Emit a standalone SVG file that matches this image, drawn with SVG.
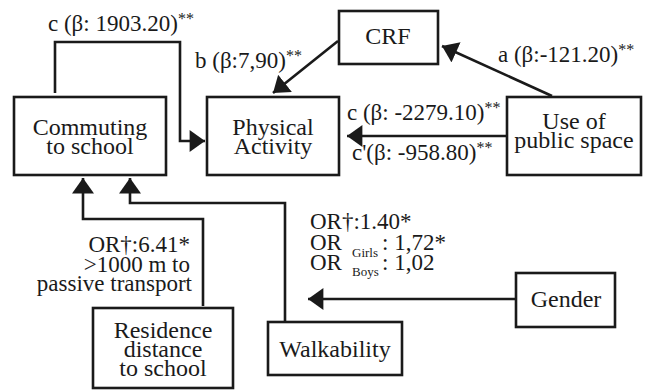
<svg xmlns="http://www.w3.org/2000/svg" width="649" height="390" viewBox="0 0 649 390">
<defs>
<style>
text { font-family: 'Liberation Serif', serif; fill: #1a1a1a; }
.nodeBox { fill: #ffffff; stroke: #1a1a1a; stroke-width: 2.6; }
.nodeText { font-size: 24px; text-anchor: middle; }
.edgeText { font-size: 23px; }
.starMark { font-size: 16px; }
.subText { font-size: 13px; }
.connLine { fill: none; stroke: #1a1a1a; stroke-width: 2.6; }
</style>
<marker id="ah" markerUnits="userSpaceOnUse" markerWidth="16" markerHeight="22" refX="14" refY="10" orient="auto" viewBox="0 0 14 20">
<path d="M0,0 L14,10 L0,20 z" fill="#1a1a1a"/>
</marker>
</defs>
<g id="connectors">
<path class="connLine" d="M55,93 V42 H180 V141 H205" marker-end="url(#ah)"/>
<path class="connLine" d="M338,41 L273,93" marker-end="url(#ah)"/>
<path class="connLine" d="M552,96 L442,46" marker-end="url(#ah)"/>
<path class="connLine" d="M507,136 H347" marker-end="url(#ah)"/>
<path class="connLine" d="M203,306 V219 H83 V178" marker-end="url(#ah)"/>
<path class="connLine" d="M285,322 V203 H130 V178" marker-end="url(#ah)"/>
<path class="connLine" d="M516,299 H308" marker-end="url(#ah)"/>
</g>
<g id="edge-labels">
<text class="edgeText" x="48" y="31">c (β: 1903.20)<tspan class="starMark" dy="-7">**</tspan></text>
<text class="edgeText" x="195" y="68">b (β:7,90)<tspan class="starMark" dy="-7">**</tspan></text>
<text class="edgeText" x="498" y="62">a (β:-121.20)<tspan class="starMark" dy="-7">**</tspan></text>
<text class="edgeText" x="347" y="120">c (β: -2279.10)<tspan class="starMark" dy="-7">**</tspan></text>
<text class="edgeText" x="352" y="160">c'(β: -958.80)<tspan class="starMark" dy="-7">**</tspan></text>
<text class="edgeText" x="190" y="252" text-anchor="end">OR†:6.41*</text>
<text class="edgeText" x="190" y="272" text-anchor="end">&gt;1000 m to</text>
<text class="edgeText" x="192" y="291" text-anchor="end">passive transport</text>
<text class="edgeText" x="310" y="229">OR†:1.40*</text>
<text class="edgeText" x="310" y="250">OR</text>
<text class="subText" x="352" y="257">Girls</text>
<text class="edgeText" x="382" y="250">: 1,72*</text>
<text class="edgeText" x="310" y="270">OR</text>
<text class="subText" x="352" y="276">Boys</text>
<text class="edgeText" x="382" y="270">: 1,02</text>
</g>
<g id="commuting">
<rect class="nodeBox" x="14" y="97" width="152" height="78"/>
<text class="nodeText" x="90" y="135">Commuting</text>
<text class="nodeText" x="90" y="154">to school</text>
</g>
<g id="physical-activity">
<rect class="nodeBox" x="207" y="97" width="132" height="78"/>
<text class="nodeText" x="273" y="135">Physical</text>
<text class="nodeText" x="273" y="154">Activity</text>
</g>
<g id="crf">
<rect class="nodeBox" x="339" y="11" width="99" height="53"/>
<text class="nodeText" x="388" y="44">CRF</text>
</g>
<g id="use-public-space">
<rect class="nodeBox" x="507" y="97" width="134" height="78"/>
<text class="nodeText" x="574" y="129">Use of</text>
<text class="nodeText" x="574" y="148">public space</text>
</g>
<g id="residence">
<rect class="nodeBox" x="93" y="308" width="140" height="80"/>
<text class="nodeText" x="163" y="338">Residence</text>
<text class="nodeText" x="163" y="357">distance</text>
<text class="nodeText" x="163" y="376">to school</text>
</g>
<g id="walkability">
<rect class="nodeBox" x="268" y="322" width="134" height="53"/>
<text class="nodeText" x="335" y="357">Walkability</text>
</g>
<g id="gender">
<rect class="nodeBox" x="516" y="273" width="99" height="54"/>
<text class="nodeText" x="566" y="307">Gender</text>
</g>
</svg>
